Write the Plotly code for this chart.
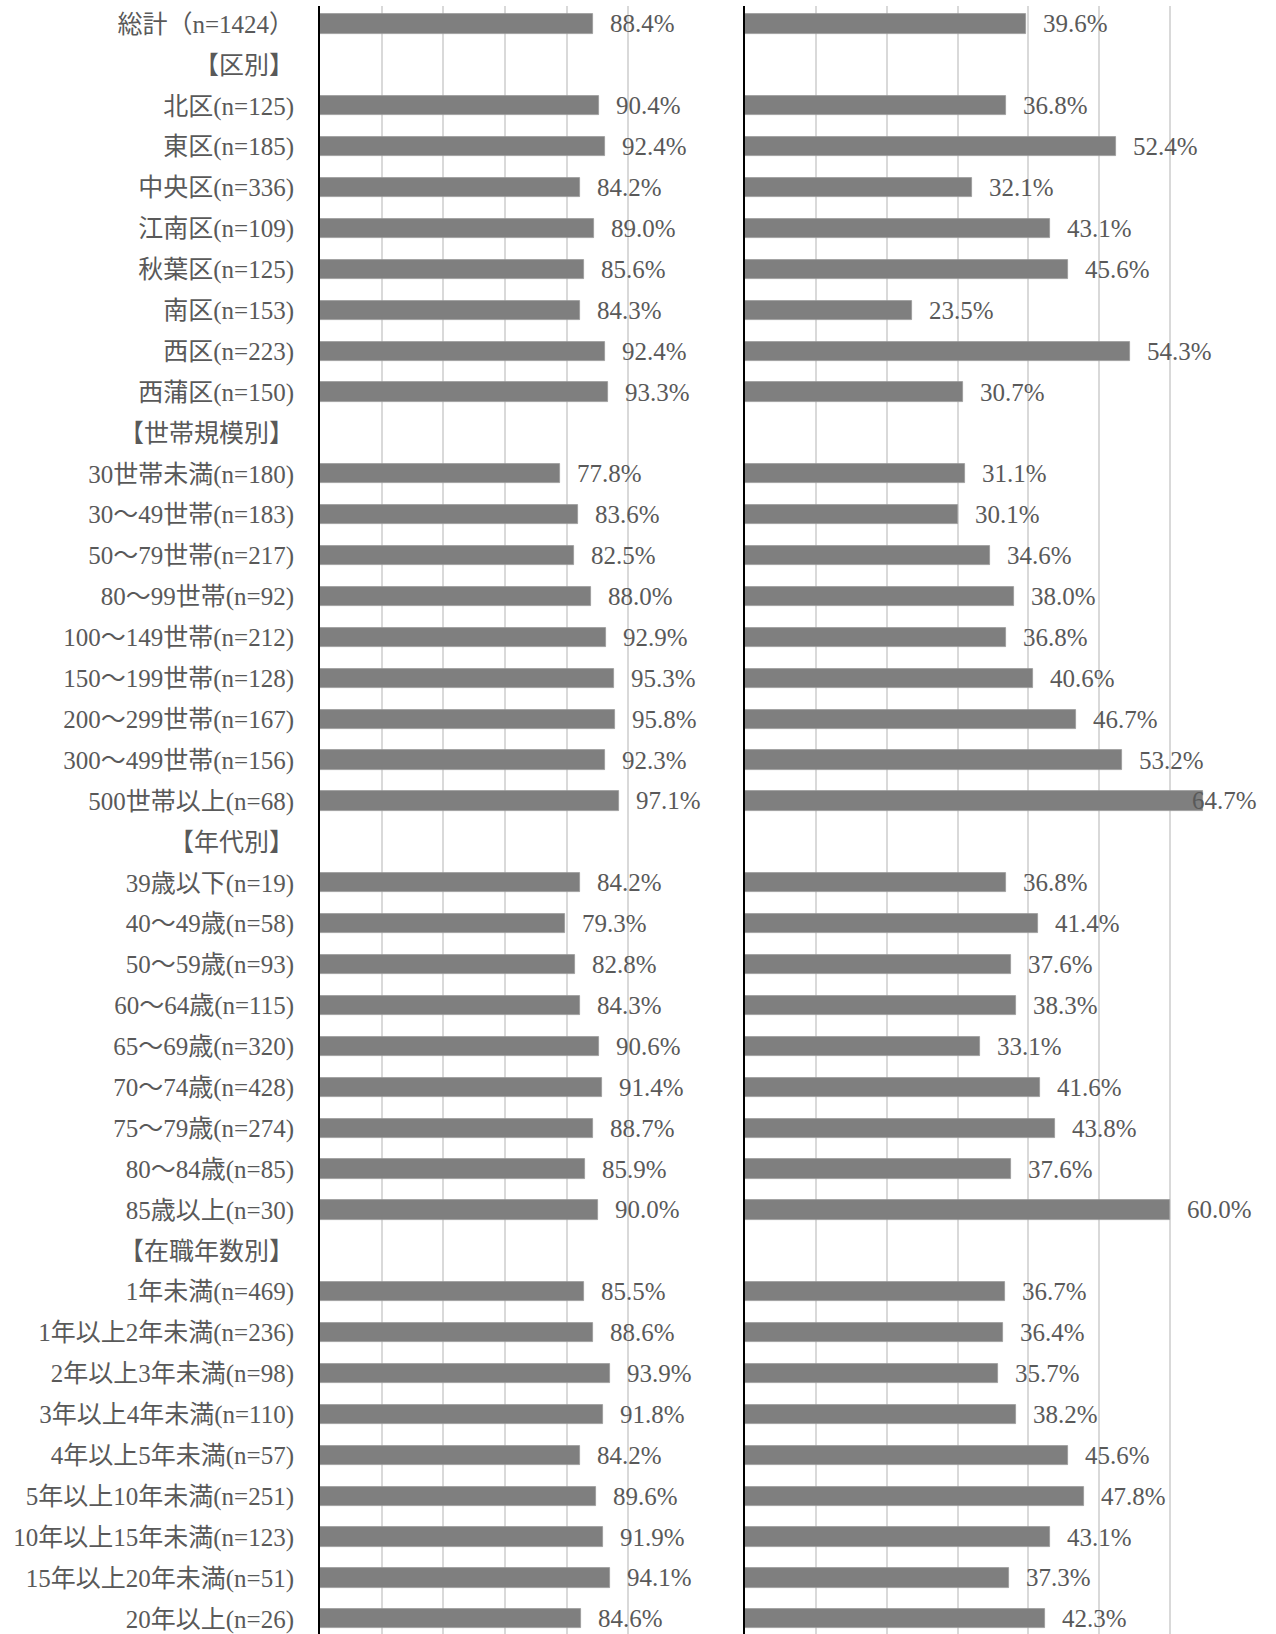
import plotly.graph_objects as go

categories = [
    "総計（n=1424）", "【区別】",
    "北区(n=125)", "東区(n=185)", "中央区(n=336)", "江南区(n=109)", "秋葉区(n=125)",
    "南区(n=153)", "西区(n=223)", "西蒲区(n=150)",
    "【世帯規模別】",
    "30世帯未満(n=180)", "30～49世帯(n=183)", "50～79世帯(n=217)", "80～99世帯(n=92)",
    "100～149世帯(n=212)", "150～199世帯(n=128)", "200～299世帯(n=167)",
    "300～499世帯(n=156)", "500世帯以上(n=68)",
    "【年代別】",
    "39歳以下(n=19)", "40～49歳(n=58)", "50～59歳(n=93)", "60～64歳(n=115)",
    "65～69歳(n=320)", "70～74歳(n=428)", "75～79歳(n=274)", "80～84歳(n=85)",
    "85歳以上(n=30)",
    "【在職年数別】",
    "1年未満(n=469)", "1年以上2年未満(n=236)", "2年以上3年未満(n=98)",
    "3年以上4年未満(n=110)", "4年以上5年未満(n=57)", "5年以上10年未満(n=251)",
    "10年以上15年未満(n=123)", "15年以上20年未満(n=51)", "20年以上(n=26)",
]

left_values = [
    88.4, None,
    90.4, 92.4, 84.2, 89.0, 85.6, 84.3, 92.4, 93.3,
    None,
    77.8, 83.6, 82.5, 88.0, 92.9, 95.3, 95.8, 92.3, 97.1,
    None,
    84.2, 79.3, 82.8, 84.3, 90.6, 91.4, 88.7, 85.9, 90.0,
    None,
    85.5, 88.6, 93.9, 91.8, 84.2, 89.6, 91.9, 94.1, 84.6,
]

right_values = [
    39.6, None,
    36.8, 52.4, 32.1, 43.1, 45.6, 23.5, 54.3, 30.7,
    None,
    31.1, 30.1, 34.6, 38.0, 36.8, 40.6, 46.7, 53.2, 64.7,
    None,
    36.8, 41.4, 37.6, 38.3, 33.1, 41.6, 43.8, 37.6, 60.0,
    None,
    36.7, 36.4, 35.7, 38.2, 45.6, 47.8, 43.1, 37.3, 42.3,
]

W, H = 1276, 1634
FONT = "Liberation Serif, Noto Sans CJK JP, serif"
FSIZE = 25
TXT = "#595959"
BAR = "#7f7f7f"
GRID = "#d9d9d9"

left_dom = [320 / W, 690 / W]
right_dom = [745 / W, 1241 / W]
left_max, left_dtick = 120, 20
right_max, right_dtick = 70, 10

n = len(categories)
yrange = [n - 1 + 0.37, -0.44]

fig = go.Figure()
fig.add_trace(go.Bar(
    x=left_values, y=categories, orientation="h", width=0.47,
    marker=dict(color=BAR, line=dict(color="#999999", width=0.8)),
    xaxis="x", yaxis="y", showlegend=False, hoverinfo="x+y",
))
fig.add_trace(go.Bar(
    x=right_values, y=categories, orientation="h", width=0.47,
    marker=dict(color=BAR, line=dict(color="#999999", width=0.8)),
    xaxis="x2", yaxis="y2", showlegend=False, hoverinfo="x+y",
))

annotations = []
LABEL_GAP = 15
LABEL_W = 2.6 * FSIZE
def add_labels(vals, xref, yref, dom, vmax, overflow):
    ppu = (dom[1] - dom[0]) * W / vmax
    for cat, v in zip(categories, vals):
        if v is None:
            continue
        end_px = v * ppu + LABEL_GAP + LABEL_W
        limit_px = vmax * ppu + overflow
        if end_px > limit_px:
            annotations.append(dict(x=vmax, y=cat, xref=xref, yref=yref,
                                    text=f"{v:.1f}%", showarrow=False,
                                    xanchor="right", xshift=overflow,
                                    font=dict(family=FONT, size=FSIZE, color=TXT)))
        else:
            annotations.append(dict(x=v, y=cat, xref=xref, yref=yref,
                                    text=f"{v:.1f}%", showarrow=False,
                                    xanchor="left", xshift=LABEL_GAP,
                                    font=dict(family=FONT, size=FSIZE, color=TXT)))

add_labels(left_values, "x", "y", left_dom, left_max, 60)
add_labels(right_values, "x2", "y2", right_dom, right_max, 18)

fig.update_layout(
    width=W, height=H,
    margin=dict(l=0, r=0, t=6, b=0),
    paper_bgcolor="white", plot_bgcolor="white",
    font=dict(family=FONT, size=FSIZE, color=TXT),
    bargap=0,
    annotations=annotations,
    xaxis=dict(domain=left_dom, range=[0, left_max], dtick=left_dtick, tick0=0,
               showgrid=True, gridcolor=GRID, gridwidth=1.5, zeroline=False,
               showticklabels=False, ticks="", anchor="y"),
    xaxis2=dict(domain=right_dom, range=[0, right_max], dtick=right_dtick, tick0=0,
                showgrid=True, gridcolor=GRID, gridwidth=1.5, zeroline=False,
                showticklabels=False, ticks="", anchor="y2"),
    yaxis=dict(type="category", categoryorder="array", categoryarray=categories,
               range=yrange, anchor="x", showline=True, linecolor="#000000",
               linewidth=2, showgrid=False, ticks="", ticklabelstandoff=19,
               tickfont=dict(family=FONT, size=FSIZE, color=TXT)),
    yaxis2=dict(type="category", categoryorder="array", categoryarray=categories,
                range=yrange, anchor="x2", showline=True, linecolor="#000000",
                linewidth=2, showgrid=False, ticks="", showticklabels=False,
                matches="y"),
)

fig.write_html("out.html",
               config={"displayModeBar": False},
               post_script="document.body.style.margin='0px';document.body.style.overflow='hidden';")
